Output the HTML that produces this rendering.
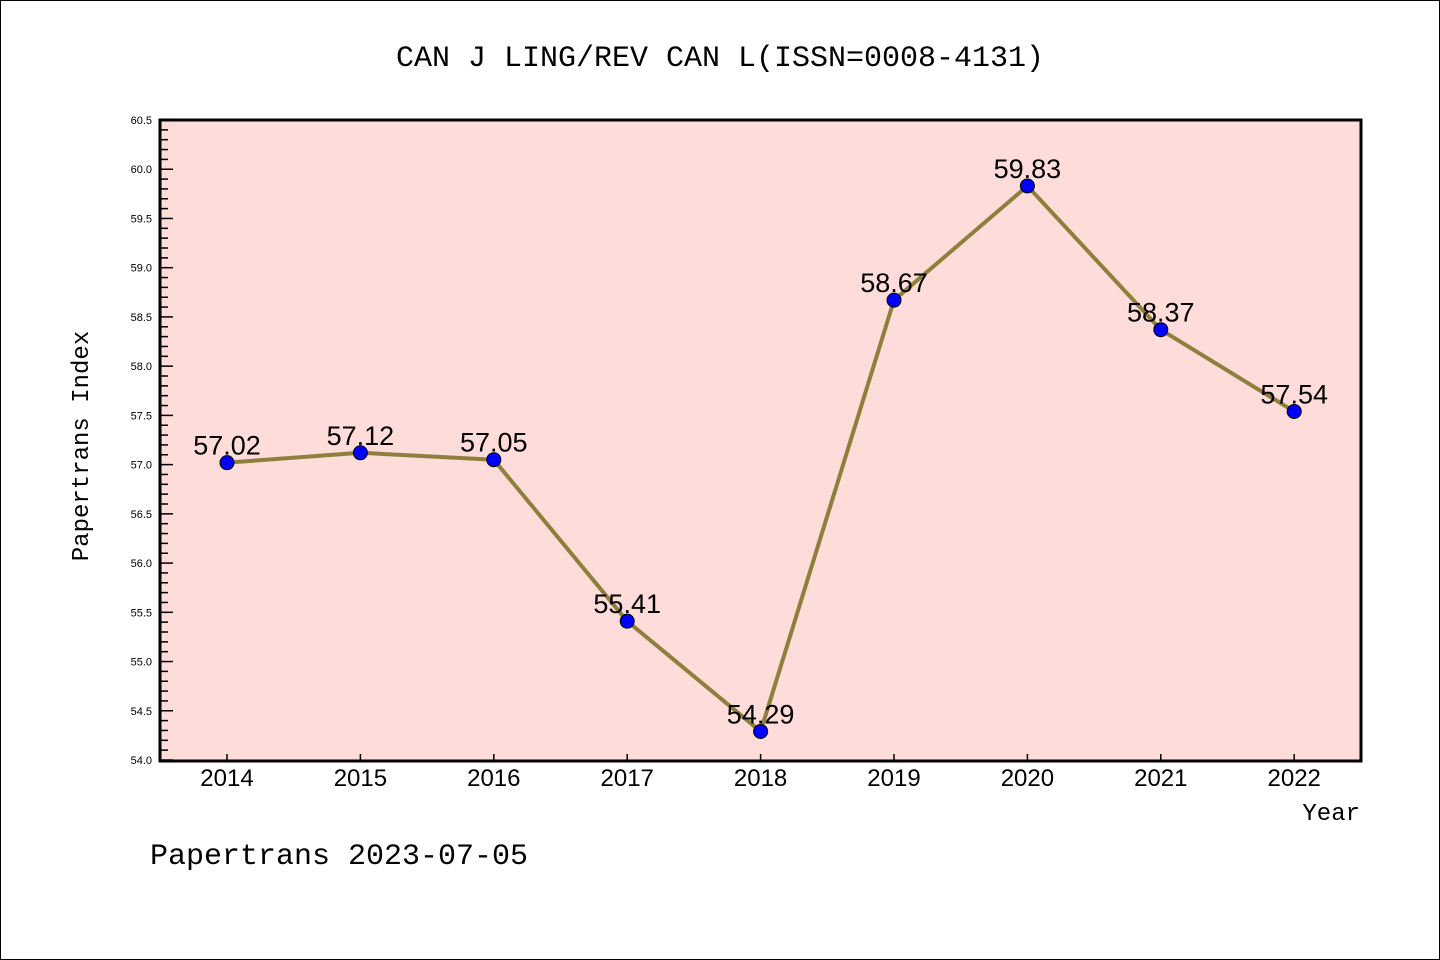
<!DOCTYPE html>
<html><head><meta charset="utf-8"><style>
body{margin:0;background:#fff;}
svg{display:block;font-family:"Liberation Sans","WenQuanYi Zen Hei",sans-serif;}
</style></head><body>
<svg id="chart" width="1440" height="960">
<rect x="0.5" y="0.5" width="1439" height="959" fill="#fff" stroke="#000"/>
<text x="720" y="66" text-anchor="middle" font-size="30" font-family="'WenQuanYi Zen Hei','Liberation Mono',monospace">CAN J LING/REV CAN L(ISSN=0008-4131)</text>
<rect x="160" y="120" width="1201" height="641" fill="#fddcd9"/>
<g id="axes"></g>
<g id="series"></g>
<rect x="160" y="120" width="1201" height="641" fill="none" stroke="#000" stroke-width="3"/>
<text x="88" y="446" transform="rotate(-90 88 446)" text-anchor="middle" font-size="24" font-family="'WenQuanYi Zen Hei','Liberation Mono',monospace">Papertrans Index</text>
<text x="1360" y="820" text-anchor="end" font-size="24" font-family="'WenQuanYi Zen Hei','Liberation Mono',monospace">Year</text>
<text x="150" y="864" font-size="30" font-family="'WenQuanYi Zen Hei','Liberation Mono',monospace">Papertrans 2023-07-05</text>
</svg>
<script>
const years=["2014","2015","2016","2017","2018","2019","2020","2021","2022"];
const values=[57.02,57.12,57.05,55.41,54.29,58.67,59.83,58.37,57.54];
const labels=["57.02","57.12","57.05","55.41","54.29","58.67","59.83","58.37","57.54"];
const yTicks=["54.0","54.5","55.0","55.5","56.0","56.5","57.0","57.5","58.0","58.5","59.0","59.5","60.0","60.5"];
const NS="http://www.w3.org/2000/svg";
const yMin=54,yMax=60.5,yTop=120,yBot=760;
function yS(v){return yBot-(v-yMin)/(yMax-yMin)*(yBot-yTop);}
function xS(i){return 227+i*133.4;}
function mk(tag,attrs,parent){const e=document.createElementNS(NS,tag);for(const k in attrs)e.setAttribute(k,attrs[k]);parent.appendChild(e);return e;}
const axes=document.getElementById('axes'),ser=document.getElementById('series');
for(let k=0;k<=65;k++){
  const v=yMin+k*0.1;
  const major=k%5===0;
  const t=mk('line',{x1:160,x2:160+(major?13:8),y1:yS(v),y2:yS(v),stroke:'#000','stroke-width':1.5},axes);
  
  
}
yTicks.forEach(s=>{
  const t=mk('text',{x:152,y:yS(parseFloat(s))+4,'text-anchor':'end','font-size':11},axes);
  t.textContent=s;
  
  
});
years.forEach((y,i)=>{
  const l=mk('line',{x1:xS(i),x2:xS(i),y1:yBot,y2:yBot-6,stroke:'#000','stroke-width':1.5},axes);
  
  
  const t=mk('text',{x:xS(i),y:786,'text-anchor':'middle','font-size':24},axes);
  t.textContent=y;
  
  
});
const pts=values.map((v,i)=>xS(i)+','+yS(v)).join(' ');
const pl=mk('polyline',{points:pts,fill:'none',stroke:'#8f7f3c','stroke-width':4,'stroke-linejoin':'round'},ser);


values.forEach((v,i)=>{
  const c=mk('circle',{cx:xS(i),cy:yS(v),r:7,fill:'#0000ff',stroke:'#000','stroke-width':1},ser);
  
  
  const t=mk('text',{x:xS(i),y:yS(v)-8,'text-anchor':'middle','font-size':27},ser);
  t.textContent=labels[i];
  
  
});
</script>
</body></html>
